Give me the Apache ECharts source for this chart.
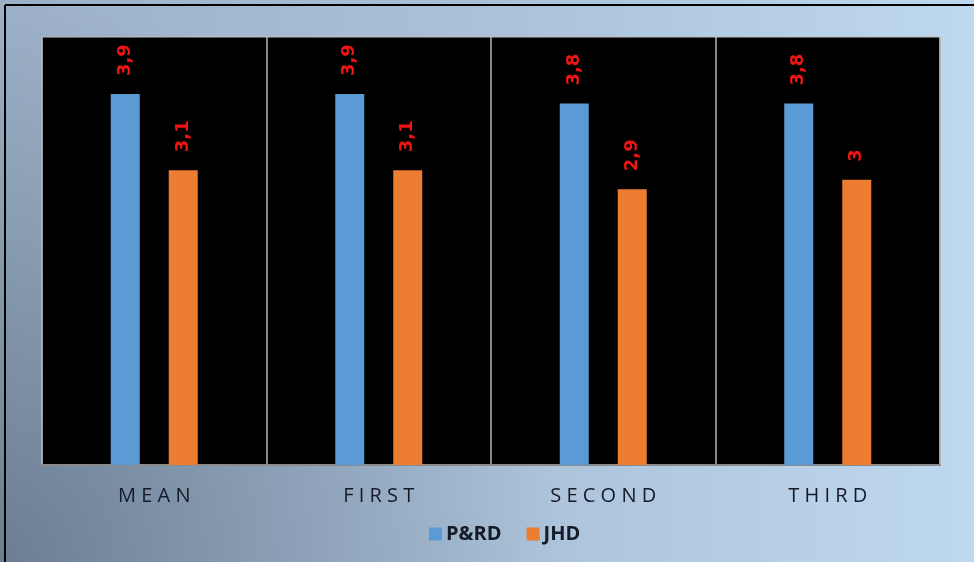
<!DOCTYPE html>
<html>
<head>
<meta charset="utf-8">
<script src="https://cdn.jsdelivr.net/npm/echarts@6/dist/echarts.min.js"></script>
<style>
  html, body { margin: 0; padding: 0; background: #fff; }
  #chart { width: 974px; height: 562px; }
</style>
</head>
<body>
<div id="chart"></div>
<script>
// Categories and mean scores for the two groups
const categories = ['MEAN', 'FIRST', 'SECOND', 'THIRD'];
const seriesNames = ['P&RD', 'JHD'];
const prdValues = [3.9, 3.9, 3.8, 3.8];
const jhdValues = [3.1, 3.1, 2.9, 3.0];

const chart = echarts.init(document.getElementById('chart'), null, { renderer: 'canvas' });

// Decimal comma, as in the source labels
const fmt = p => String(p.value).replace('.', ',');

const labelStyle = {
  show: true,
  position: 'top',
  rotate: 90,
  align: 'left',
  verticalAlign: 'middle',
  distance: 16,
  offset: [2, 0],
  color: '#f01414',
  fontFamily: 'DejaVu Sans',
  fontWeight: 'bold',
  fontSize: 18,
  formatter: fmt
};

const option = {
  animation: false,
  backgroundColor: {
    type: 'linear', x: 0, y: 0, x2: 1, y2: 0,
    colorStops: [
      { offset: 0, color: '#9cb1c7' },
      { offset: 0.5, color: '#aac1d8' },
      { offset: 1, color: '#bed8f0' }
    ]
  },
  graphic: [
    {
      type: 'rect', z: -10, silent: true,
      shape: { x: 0, y: 0, width: 974, height: 562 },
      style: {
        fill: {
          type: 'radial', x: 0, y: 1, r: 1.0,
          colorStops: [
            { offset: 0, color: 'rgba(40,55,75,0.42)' },
            { offset: 1, color: 'rgba(40,55,75,0)' }
          ]
        }
      }
    },
    { type: 'line', z: 10, shape: { x1: 5, y1: 5, x2: 974, y2: 5 }, style: { stroke: '#000', lineWidth: 2 } },
    { type: 'line', z: 10, shape: { x1: 5, y1: 5, x2: 5, y2: 562 }, style: { stroke: '#000', lineWidth: 2 } }
  ],
  grid: {
    left: 42, right: 34, top: 37, bottom: 97,
    show: true,
    backgroundColor: '#000',
    borderColor: '#bfbfbf',
    borderWidth: 1
  },
  legend: {
    data: seriesNames,
    left: 424,
    top: 519,
    icon: 'rect',
    itemWidth: 13,
    itemHeight: 13,
    itemGap: 25,
    textStyle: {
      fontFamily: 'Open Sans',
      fontWeight: 'bold',
      fontSize: 20,
      color: '#141a26',
      padding: [0, 0, 0, -1]
    }
  },
  xAxis: {
    type: 'category',
    data: categories,
    axisLine: { show: true, lineStyle: { color: '#8a8a8a', width: 2 } },
    axisTick: { show: false },
    splitLine: { show: true, interval: 0, lineStyle: { color: '#b5b5b5', width: 1.5 } },
    axisLabel: {
      margin: 21,
      fontFamily: 'Open Sans',
      fontSize: 20,
      color: '#141a26',
      formatter: v => v.split('').join(' ')
    }
  },
  yAxis: {
    type: 'value',
    min: 0,
    max: 4.5,
    show: false,
    splitLine: { show: false }
  },
  series: [
    {
      name: seriesNames[0],
      type: 'bar',
      data: prdValues,
      barWidth: 29,
      barGap: '100%',
      itemStyle: { color: '#5b9bd5' },
      label: labelStyle
    },
    {
      name: seriesNames[1],
      type: 'bar',
      data: jhdValues,
      barWidth: 29,
      itemStyle: { color: '#ed7d31' },
      label: labelStyle
    }
  ]
};

chart.setOption(option);
</script>
</body>
</html>
